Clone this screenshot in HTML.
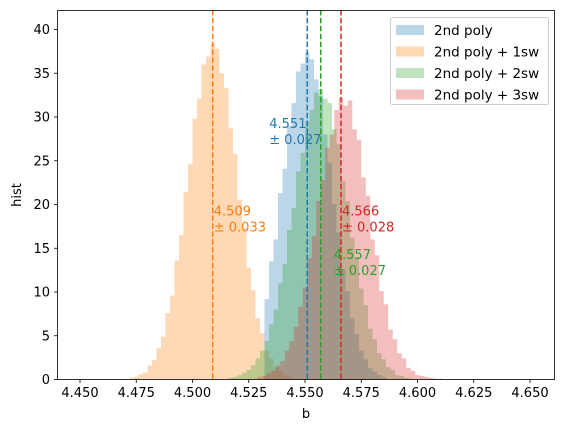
<!DOCTYPE html>
<html><head><meta charset="utf-8"><style>
body{margin:0;background:#fff}
svg{display:block;font-family:"DejaVu Sans","Liberation Sans",sans-serif}
</style></head><body>
<svg width="562" height="432" viewBox="0 0 562 432">
<g id="bars"></g>
<g id="vlines"></g>
<g id="ann"></g>
<rect x="57.5" y="10.5" width="497" height="369" fill="none" stroke="#000" stroke-width="0.8"/>
<g id="xt"></g>
<g id="yt"></g>
<text x="306" y="418" font-size="13" text-anchor="middle">b</text>
<text transform="translate(21,195) rotate(-90)" font-size="13" text-anchor="middle">hist</text>
<g id="legend"></g>
</svg>
<script>
const NS="http://www.w3.org/2000/svg";
const binWidth=0.002;
const seriesNames=["2nd poly","2nd poly + 1sw","2nd poly + 2sw","2nd poly + 3sw"];
const colors=["#1f77b4","#ff7f0e","#2ca02c","#d62728"];
const seriesStart=[4.532,4.472,4.516,4.529];
const blueVals=[9.2,13.5,16.0,21.3,24.1,29.0,31.6,35.2,36.1,37.4,36.6,34.3,32.4,28.0,24.8,20.1,16.8,12.6,10.1,7.0,5.2,3.3,2.3,1.3,0.9,0.5,0.3];
const orangeVals=[0.2,0.3,0.6,0.8,1.6,2.2,3.6,4.9,7.6,9.6,13.6,16.5,21.4,24.6,29.8,32.1,36.0,36.9,38.3,37.8,35.0,33.3,28.7,25.8,20.5,17.3,12.8,10.2,7.0,5.3,3.3,2.4,1.4,1.0,0.5,0.3,0.1];
const greenVals=[0.2,0.3,0.5,0.8,1.1,1.6,2.4,3.3,4.4,6.3,8.0,11.0,13.2,17.1,19.6,23.8,25.9,29.5,30.8,32.8,33.2,32.1,31.6,28.6,26.9,22.7,20.4,16.2,14.0,10.4,8.5,5.8,4.6,3.0,2.3,1.4,1.1,0.5,0.4,0.2,0.1];
const redVals=[0.3,0.4,0.7,1.0,1.6,2.1,3.3,4.4,6.0,8.3,10.5,13.9,16.4,20.4,22.8,26.5,28.0,30.8,32.2,31.3,31.9,28.6,27.4,23.1,21.0,16.0,14.2,10.1,8.6,5.7,4.6,3.0,2.4,1.3,1.0,0.5,0.4,0.3,0.2,0.1,0.1];
const seriesVals=[blueVals,orangeVals,greenVals,redVals];
const means=[4.551,4.509,4.557,4.566];
const errs=["0.027","0.033","0.027","0.028"];
const annY=[27.5,17.5,12.5,17.5];
const xTicks=[4.450,4.475,4.500,4.525,4.550,4.575,4.600,4.625,4.650];
const yTicks=[0,5,10,15,20,25,30,35,40];
function X(v){return 80+(v-4.45)*2250;}
function Y(v){return 379.5-v*8.75;}
function mk(t,a,p){const e=document.createElementNS(NS,t);for(const k in a)e.setAttribute(k,a[k]);p.appendChild(e);return e;}
const bars=document.getElementById('bars');
[1,0,2,3].forEach(s=>{
  const g=mk('g',{fill:colors[s],'fill-opacity':0.3},bars);
  
  
  seriesVals[s].forEach((v,i)=>{
    const x0=seriesStart[s]+i*binWidth;
    const r=mk('rect',{x:X(x0),y:Y(v),width:X(x0+binWidth)-X(x0),height:Y(0)-Y(v)},g);
    
    
  });
});
const annDx=[-38,1,13,1];
const vl=document.getElementById('vlines'),ann=document.getElementById('ann');
means.forEach((m,s)=>{
  const l=mk('line',{x1:X(m),x2:X(m),y1:10,y2:379.5,stroke:colors[s],'stroke-width':1.5,'stroke-dasharray':'5.5,2.4'},vl);
  
  
  const ax=X(m)+annDx[s];
  const t1=mk('text',{x:ax,y:Y(annY[s])-11,'font-size':13,fill:colors[s]},ann);t1.textContent=m.toFixed(3);
  
  
  const t2=mk('text',{x:ax,y:Y(annY[s])+5,'font-size':13,fill:colors[s]},ann);t2.textContent='± '+errs[s];
  
  
});
const xt=document.getElementById('xt');
xTicks.forEach(v=>{
  mk('line',{x1:X(v),x2:X(v),y1:379.5,y2:383,stroke:'#000','stroke-width':0.8},xt);
  const t=mk('text',{x:X(v),y:397,'font-size':13,'text-anchor':'middle'},xt);t.textContent=v.toFixed(3);
  
  
});
const yt=document.getElementById('yt');
yTicks.forEach(v=>{
  mk('line',{x1:54,x2:57.5,y1:Y(v),y2:Y(v),stroke:'#000','stroke-width':0.8},yt);
  const t=mk('text',{x:50,y:Y(v)+4.5,'font-size':13,'text-anchor':'end'},yt);t.textContent=v;
  
  
});
const lg=document.getElementById('legend');
mk('rect',{x:390.5,y:17.5,width:158,height:87,rx:2,fill:'#fff','fill-opacity':0.8,stroke:'#ccc'},lg);
seriesNames.forEach((n,i)=>{
  const y=25+i*21.5;
  const r=mk('rect',{x:396,y:y,width:28,height:10,fill:colors[i],'fill-opacity':0.3},lg);
  
  
  const t=mk('text',{x:434,y:y+10,'font-size':13.5},lg);t.textContent=n;
  
  
});
</script>
</body></html>
